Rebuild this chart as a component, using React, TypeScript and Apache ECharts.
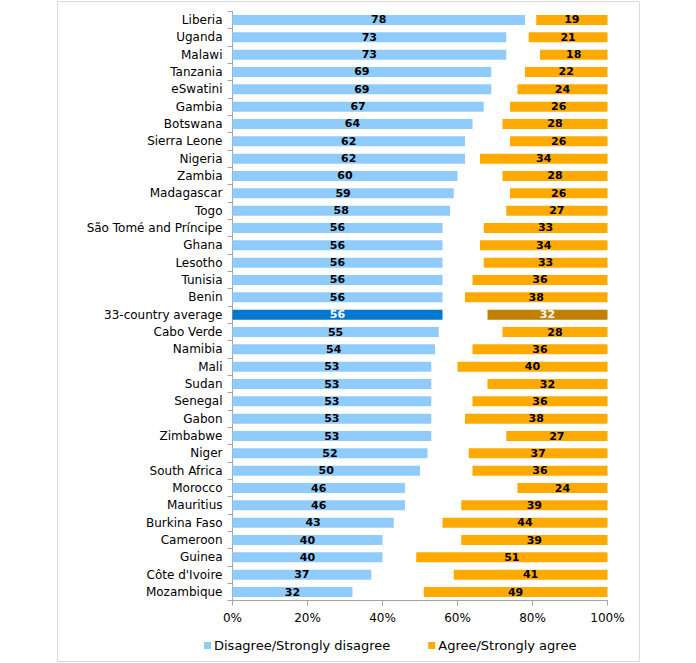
import React, { useEffect, useRef } from "react";
import * as echarts from "echarts";

const countries = [
  "Liberia", "Uganda", "Malawi", "Tanzania", "eSwatini", "Gambia", "Botswana",
  "Sierra Leone", "Nigeria", "Zambia", "Madagascar", "Togo", "São Tomé and Príncipe",
  "Ghana", "Lesotho", "Tunisia", "Benin", "33-country average", "Cabo Verde", "Namibia",
  "Mali", "Sudan", "Senegal", "Gabon", "Zimbabwe", "Niger", "South Africa", "Morocco",
  "Mauritius", "Burkina Faso", "Cameroon", "Guinea", "Côte d'Ivoire", "Mozambique",
];

const disagree = [
  78, 73, 73, 69, 69, 67, 64, 62, 62, 60, 59, 58, 56, 56, 56, 56, 56, 56, 55, 54,
  53, 53, 53, 53, 53, 52, 50, 46, 46, 43, 40, 40, 37, 32,
];

const agree = [
  19, 21, 18, 22, 24, 26, 28, 26, 34, 28, 26, 27, 33, 34, 33, 36, 38, 32, 28, 36,
  40, 32, 36, 38, 27, 37, 36, 24, 39, 44, 39, 51, 41, 49,
];

const xTicks = [0, 20, 40, 60, 80, 100];
const averageName = "33-country average";

const FONT = "'DejaVu Sans', sans-serif";

export default function App() {
  const ref = useRef<HTMLDivElement>(null);

  useEffect(() => {
    if (!ref.current) return;
    const chart = echarts.init(ref.current, undefined, { renderer: "svg" });
    const avgIdx = countries.indexOf(averageName);

    const disagreeData = disagree.map((v, i) =>
      i === avgIdx
        ? { value: v, itemStyle: { color: "#0078D0" }, label: { color: "#FFFFFF" } }
        : v
    );
    const gapData = disagree.map((v, i) => 100 - v - agree[i]);
    const agreeData = agree.map((v, i) =>
      i === avgIdx
        ? { value: v, itemStyle: { color: "#C08000" }, label: { color: "#FFFFFF" } }
        : v
    );

    const labelStyle = {
      show: true,
      position: "inside" as const,
      color: "#000000",
      fontFamily: FONT,
      fontWeight: "bold" as const,
      fontSize: 11,
    };

    chart.setOption({
      animation: false,
      textStyle: { fontFamily: FONT },
      graphic: [
        {
          type: "rect",
          shape: { x: 57.5, y: 1.5, width: 582, height: 660 },
          style: { fill: "none", stroke: "#D9D9D9", lineWidth: 1 },
          silent: true,
          z: -10,
        },
      ],
      grid: { left: 232.5, right: 88.5, top: 11.3, bottom: 62.3, containLabel: false },
      legend: {
        data: ["Disagree/Strongly disagree", "Agree/Strongly agree"],
        left: 199,
        top: 634,
        itemWidth: 7,
        itemHeight: 7,
        itemGap: 38,
        icon: "rect",
        textStyle: { fontFamily: FONT, fontSize: 13, color: "#000000", padding: [0, 0, 0, -2] },
      },
      xAxis: {
        type: "value",
        min: 0,
        max: 100,
        interval: 20,
        splitLine: { show: false },
        axisLine: { show: true, lineStyle: { color: "#A6A6A6" } },
        axisTick: { show: true, length: 5, lineStyle: { color: "#A6A6A6" } },
        axisLabel: {
          formatter: (v: number) => (xTicks.includes(v) ? `${v}%` : ""),
          color: "#000000",
          fontFamily: FONT,
          fontSize: 12,
          margin: 11,
        },
      },
      yAxis: {
        type: "category",
        data: countries,
        inverse: true,
        axisLine: { show: true, lineStyle: { color: "#A6A6A6" } },
        axisTick: { show: true, length: 5, lineStyle: { color: "#A6A6A6" } },
        axisLabel: { color: "#000000", fontFamily: FONT, fontSize: 12, margin: 10 },
      },
      series: [
        {
          name: "Disagree/Strongly disagree",
          type: "bar",
          stack: "total",
          barWidth: 10,
          data: disagreeData,
          itemStyle: { color: "#8FCBFB" },
          label: labelStyle,
        },
        {
          name: "gap",
          type: "bar",
          stack: "total",
          barWidth: 10,
          data: gapData,
          itemStyle: { color: "rgba(0,0,0,0)" },
          label: { show: false },
          silent: true,
        },
        {
          name: "Agree/Strongly agree",
          type: "bar",
          stack: "total",
          barWidth: 10,
          data: agreeData,
          itemStyle: { color: "#FFAA00" },
          label: labelStyle,
        },
      ],
    });

    return () => chart.dispose();
  }, []);

  return (
    <div
      ref={ref}
      style={{ position: "absolute", left: 0, top: 0, width: 696, height: 663, background: "#FFFFFF" }}
    />
  );
}
